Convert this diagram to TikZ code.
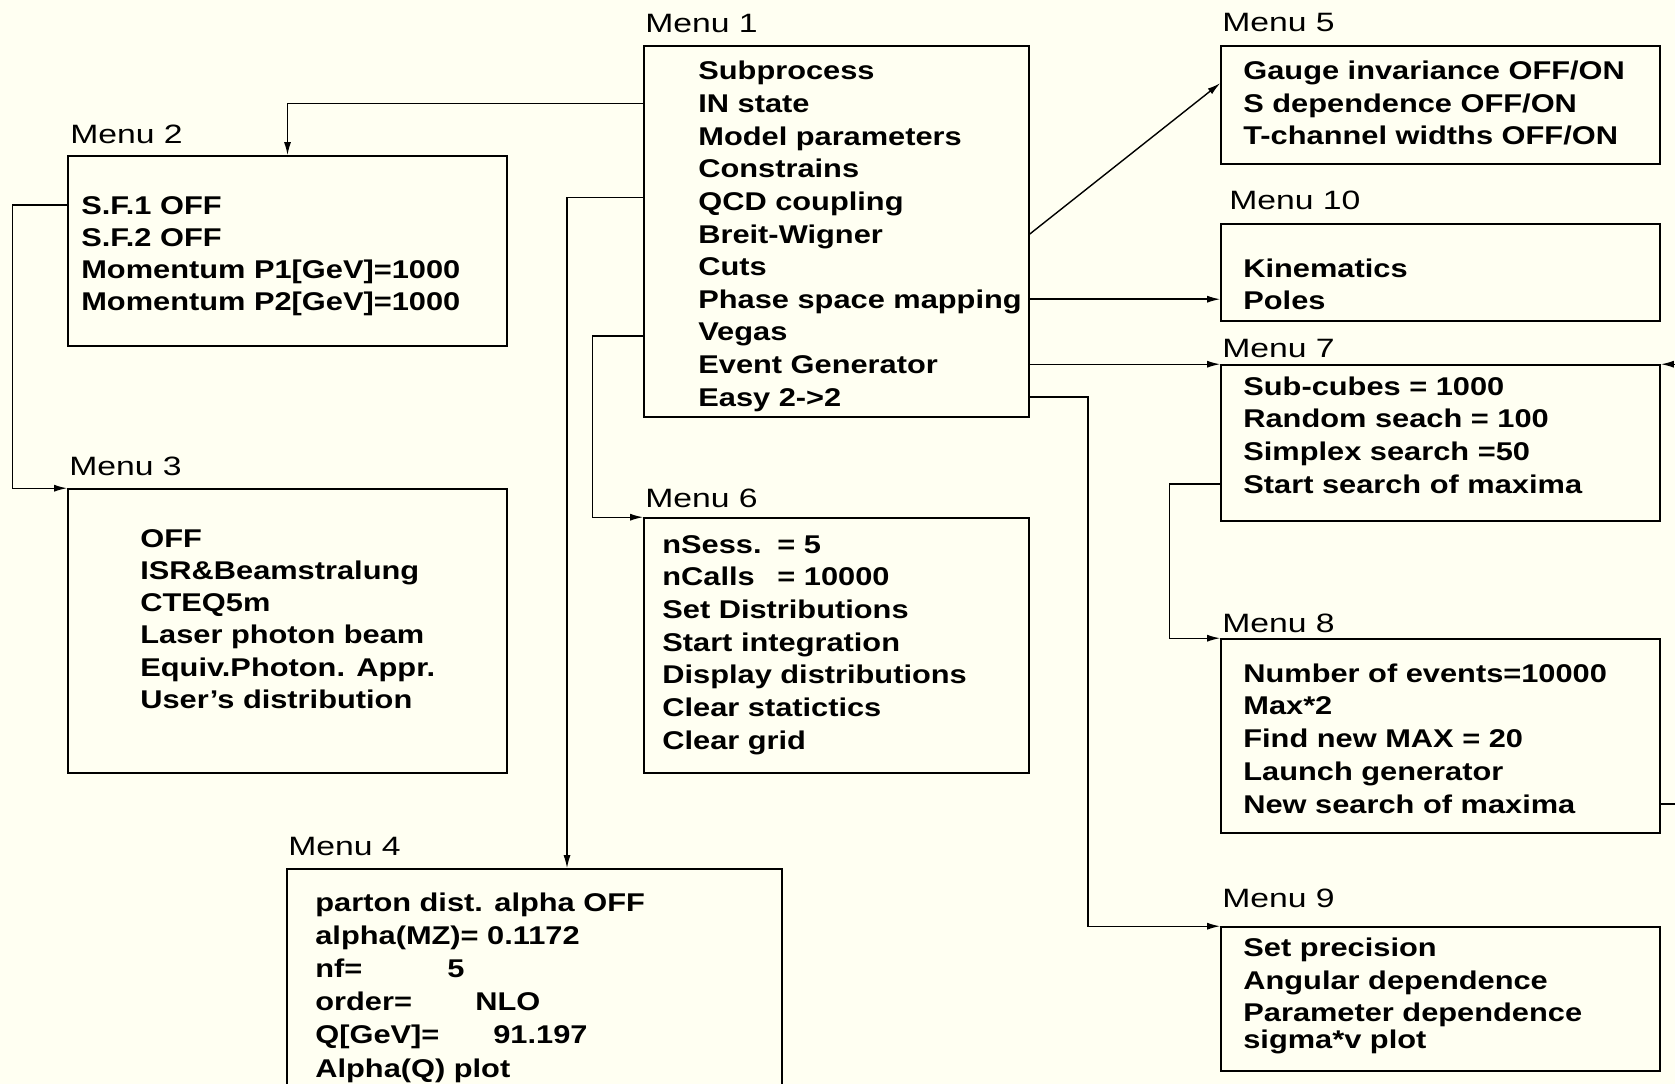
\documentclass[tikz,border=0pt]{standalone}
\usepackage{fontspec}
\setmainfont{Liberation Sans}
\newfontfamily\itemfam{Liberation Sans}[FakeStretch=1.2]
\newfontfamily\titlefam{Liberation Sans}[FakeStretch=1.27]
\usetikzlibrary{arrows.meta,calc,fit}
\newlength\pxu \setlength\pxu{0.2mm}
\definecolor{paper}{RGB}{255,255,242}
\tikzset{
  menu/.style={draw, line width=0.9pt, inner sep=0pt},
  item/.style={anchor=base west, inner sep=0pt, text height=3.6mm, text depth=0pt,
    font=\itemfam\bfseries\fontsize{14.6}{17}\selectfont},
  title/.style={anchor=base west, inner sep=0pt, font=\titlefam\fontsize{15.1}{18}\selectfont},
  link/.style={line width=0.8pt, -{Latex[length=2.6mm,width=1.4mm]}},
}
\begin{document}
\begin{tikzpicture}[x=0.2mm, y=-0.2mm]
    % Foglio
    \path[use as bounding box, fill=paper] (0,0) rectangle (1675,1084);
    \clip (0,0) rectangle (1675,1084);

    % Menu 1
    \node[menu, fit={(644,46) (1029,417)}] (m1) {};
    \node[title] (t1) at (645,33) {Menu 1};
    \foreach \s [count=\i] in {Subprocess, IN state, Model parameters, Constrains,
        QCD coupling, Breit-Wigner, Cuts, Phase space mapping, Vegas,
        Event Generator, Easy 2->2}
      \node[item] (m1-\i) at (698, {80+32.6*(\i-1)}) {\s};

    % Menu 2
    \node[menu, fit={(68,156) (507,346)}] (m2) {};
    \node[title] (t2) at (70,143) {Menu 2};
    \foreach \s [count=\i] in {S.F.1 OFF, S.F.2 OFF, Momentum P1[GeV]=1000,
        Momentum P2[GeV]=1000}
      \node[item] (m2-\i) at (81, {214+32.2*(\i-1)}) {\s};

    % Menu 3
    \node[menu, fit={(68,489) (507,773)}] (m3) {};
    \node[title] (t3) at (69,475) {Menu 3};
    \foreach \s [count=\i] in {OFF, ISR\&Beamstralung, CTEQ5m, Laser photon beam,
        Equiv.Photon. Appr., User’s distribution}
      \node[item] (m3-\i) at (140, {547+32.3*(\i-1)}) {\s};

    % Menu 4
    \node[menu, fit={(287,869) (782,1100)}] (m4) {};
    \node[title] (t4) at (288,855) {Menu 4};
    \foreach \s [count=\i] in {parton dist. alpha OFF, alpha(MZ)= 0.1172,
        {\makebox[132\pxu][l]{nf=}5}, {\makebox[160\pxu][l]{order=}NLO},
        {\makebox[178\pxu][l]{Q[GeV]=}91.197}, Alpha(Q) plot}
      \node[item] (m4-\i) at (315, {911.5+33.1*(\i-1)}) {\s};

    % Menu 6
    \node[menu, fit={(644,518) (1029,773)}] (m6) {};
    \node[title] (t6) at (645,507) {Menu 6};
    \foreach \s [count=\i] in {{\makebox[115\pxu][l]{nSess.}= 5},
        {\makebox[115\pxu][l]{nCalls}= 10000}, Set Distributions,
        Start integration, Display distributions, Clear statictics, Clear grid}
      \node[item] (m6-\i) at (662, {553+32.7*(\i-1)}) {\s};

    % Menu 5
    \node[menu, fit={(1221,46) (1660,164)}] (m5) {};
    \node[title] (t5) at (1222,32) {Menu 5};
    \foreach \s [count=\i] in {Gauge invariance OFF/ON, S dependence OFF/ON,
        T-channel widths OFF/ON}
      \node[item] (m5-\i) at (1243, {80+32.5*(\i-1)}) {\s};

    % Menu 10
    \node[menu, fit={(1221,224) (1660,321)}] (m10) {};
    \node[title] (t10) at (1229,209) {Menu 10};
    \foreach \s [count=\i] in {Kinematics, Poles}
      \node[item] (m10-\i) at (1243, {277+32*(\i-1)}) {\s};

    % Menu 7
    \node[menu, fit={(1221,365) (1660,521)}] (m7) {};
    \node[title] (t7) at (1222,357) {Menu 7};
    \foreach \s [count=\i] in {Sub-cubes = 1000, Random seach = 100,
        Simplex search =50, Start search of maxima}
      \node[item] (m7-\i) at (1243, {395+32.7*(\i-1)}) {\s};

    % Menu 8
    \node[menu, fit={(1221,639) (1660,833)}] (m8) {};
    \node[title] (t8) at (1222,632) {Menu 8};
    \foreach \s [count=\i] in {Number of events=10000, Max*2, Find new MAX = 20,
        Launch generator, New search of maxima}
      \node[item] (m8-\i) at (1243, {682+32.75*(\i-1)}) {\s};

    % Menu 9
    \node[menu, fit={(1221,927) (1660,1071)}] (m9) {};
    \node[title] (t9) at (1222,907) {Menu 9};
    \foreach \y/\s [count=\i] in {956/Set precision, 989.5/Angular dependence,
        1021/Parameter dependence, 1048/sigma*v plot}
      \node[item] (m9-\i) at (1243,\y) {\s};

    % Collegamenti a sinistra
    \draw[link] (m1.west |- m1-2) -| (m2.north);
    \draw[link] ($(m1.west |- m1-5)+(0,-4)$) -| ($(m4.north)+(32.5,0)$);
    \draw[link] ($(m1.west |- m1-9)+(0,4)$) -- ++(-51,0) |- (m6.north west);
    \draw[link] (m2.west |- m2-1) -- ++(-55,0) |- (m3.north west);

    % Collegamenti a destra
    \draw[link] (m1.east |- m1-6) -- ($(m5.north west)+(0,38)$);
    \draw[link] (m1.east |- m1-8) -- (m10.west |- m1-8);
    \draw[link] (m1.east |- m7.north west) -- (m7.north west);
    \draw[link] (m1.east |- m1-11) -- ++(58,0) |- (m9.north west);
    \draw[link] (m7.west |- m7-4) -- ++(-51,0) |- (m8.north west);
    \draw[link] (m8.east |- m8-5) -- ++(40,0) |- (m7.north east);

\end{tikzpicture}
\end{document}
